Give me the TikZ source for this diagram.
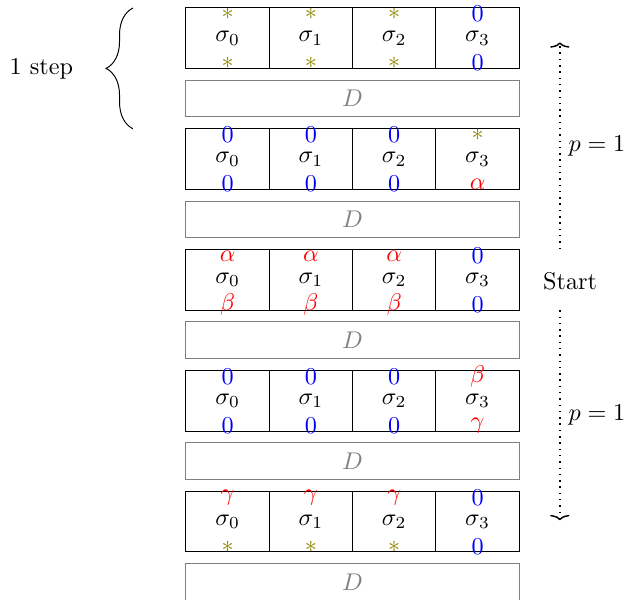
\documentclass[tikz,border=0pt]{standalone}
\usetikzlibrary{calc,arrows.meta,decorations.pathreplacing}
\newcommand{\sst}{{\color{olive}$*$}}
\newcommand{\szr}{{\color{blue}$0$}}
\newcommand{\sal}{{\color{red}$\alpha$}}
\newcommand{\sbe}{{\color{red}$\beta$}}
\newcommand{\sga}{{\color{red}$\gamma$}}
\tikzset{
  cell/.style={draw,minimum width=\w cm,minimum height=\h cm,inner sep=0pt},
  dbox/.style={draw=gray,text=gray,minimum width=4*\w cm,minimum height=\dh cm,inner sep=0pt},
  prob/.style={semithick,dotted,-{To[length=2.2pt,width=8pt]}}
}
\begin{document}
\begin{tikzpicture}
  \def\w{1.21}  % cell width
  \def\h{.88}   % cell height
  \def\g{.17}   % gap between boxes
  \def\dh{.53}  % height of D box
  \def\p{1.755} % one step
  \useasboundingbox (-2.701,.116) rectangle (6.391,-8.598);
  \foreach \ta/\ba/\tb/\bb [count=\r from 0] in {\sst/\sst/\szr/\szr, \szr/\szr/\sst/\sal, \sal/\sbe/\szr/\szr, \szr/\szr/\sbe/\sga, \sga/\sst/\szr/\szr}{
    \foreach \c in {0,...,3}
      \node[cell] (s\r\c) at ({(\c+.5)*\w},{-\r*\p-\h/2}) {$\sigma_\c$};
    \foreach \c in {0,1,2}{
      \node (t\r\c) at ($(s\r\c)+(0,.35)$) {\ta};
      \node (b\r\c) at ($(s\r\c)+(0,-.36)$) {\ba};
    }
    \node (t\r3) at ($(s\r3)+(0,.35)$) {\tb};
    \node (b\r3) at ($(s\r3)+(0,-.36)$) {\bb};
    \node[dbox] (d\r) at ({2*\w},{-\r*\p-\h-\g-\dh/2}) {$D$};
  }
  % brace for one step
  \draw[decorate,decoration={brace,amplitude=.39cm}] (-.77,-\p) -- (-.77,0);
  \node (step) at (-2.1,-.877) {1 step};
  \node (start) at (5.58,-3.97) {Start};
  \path (5.43,-3.5) coordinate (u0)
        (5.43,-.5) coordinate (u1)
        (5.43,-4.39) coordinate (v0)
        (5.43,-7.44) coordinate (v1);
  \draw[prob] (u0)--(u1) node[midway,right] {$p=1$};
  \draw[prob] (v0)--(v1) node[midway,right] {$p=1$};
\end{tikzpicture}
\end{document}
